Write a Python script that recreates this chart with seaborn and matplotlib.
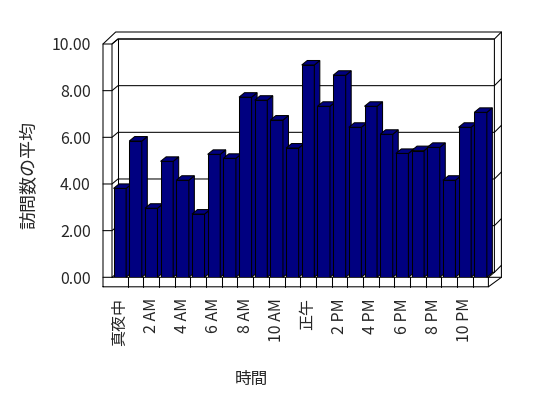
import matplotlib
matplotlib.use("Agg")
import matplotlib.pyplot as plt
from matplotlib.patches import Polygon
import seaborn as sns

# 時間帯ごとの平均訪問数
hours = ["真夜中", "1 AM", "2 AM", "3 AM", "4 AM", "5 AM", "6 AM", "7 AM",
         "8 AM", "9 AM", "10 AM", "11 AM", "正午", "1 PM", "2 PM", "3 PM",
         "4 PM", "5 PM", "6 PM", "7 PM", "8 PM", "9 PM", "10 PM", "11 PM"]
visits = [3.81, 5.84, 2.96, 4.97, 4.16, 2.71, 5.27, 5.10, 7.72, 7.59, 6.74, 5.54,
          9.10, 7.33, 8.66, 6.43, 7.33, 6.13, 5.31, 5.43, 5.57, 4.16, 6.43, 7.07]
tick_labels = hours[::2]
y_ticks = [0, 2, 4, 6, 8, 10]

sns.set_style("white")
plt.rcParams["font.family"] = ["Noto Sans CJK JP", "DejaVu Sans"]

W, H = 548, 398
fig = plt.figure(figsize=(W / 100, H / 100), dpi=100)
# 前面のプロット枠 (pixel, 下原点)
L, R, B, T = 112, 488.4, 120.7, 354
ax = fig.add_axes([L / W, B / H, (R - L) / W, (T - B) / H])
ax.patch.set_alpha(0)

sns.barplot(x=hours, y=visits, order=hours, color="#000080", saturation=1,
            width=0.8, edgecolor="black", linewidth=0.75, ax=ax)
ax.set_xlim(-0.5, len(hours) - 0.5)
ax.set_ylim(0, 10)
for s in ax.spines.values():
    s.set_visible(False)

# 3D風の奥行き (上面・側面)
ddx = 5.5 / ((R - L) / len(hours))
ddy = 4.5 / ((T - B) / 10)
for i, bar in enumerate(ax.patches):
    x0 = bar.get_x()
    x1 = x0 + bar.get_width()
    h = bar.get_height()
    z = 3 + i * 0.1
    bar.set_zorder(z)
    top = Polygon([(x0, h), (x1, h), (x1 + ddx, h + ddy), (x0 + ddx, h + ddy)],
                  closed=True, facecolor="#000080", edgecolor="black", lw=0.75,
                  zorder=z + 0.05, clip_on=False)
    side = Polygon([(x1, 0), (x1, h), (x1 + ddx, h + ddy), (x1 + ddx, ddy)],
                   closed=True, facecolor="#000080", edgecolor="black", lw=0.75,
                   zorder=z + 0.05, clip_on=False)
    ax.add_patch(side)
    ax.add_patch(top)


def frame(xs, ys, z=1):
    ax.plot([x / W for x in xs], [y / H for y in ys], color="black", lw=0.75,
            transform=fig.transFigure, clip_on=False, zorder=z)


# 壁と床
WALL, FLOOR = 9, 9.5
frame([L - WALL, R, R, R + 13, R + 13, L + 3.7, L - WALL, L - WALL],
      [B - FLOOR, B - FLOOR, B, B, T + 12, T + 12, T, B - FLOOR])
frame([R, R + 13], [B - FLOOR, B])
frame([L, L, L + 6, R + 6, R + 6], [B, T, T + 5, T + 5, B + 5])
frame([L + 6, L + 6], [T + 5, B + 5])
frame([L, R, R + 6], [B, B, B + 5])
for k in range(1, len(hours)):
    xk = L + k * (R - L) / len(hours)
    frame([xk, xk], [B - FLOOR, B])

# 目盛り線
for v in y_ticks:
    y = B + v * (T - B) / 10
    frame([L - WALL, L, L + 6, R + 6, R + 13], [y, y, y + 5, y + 5, y + 12])

ax.set_yticks(y_ticks)
ax.set_yticklabels([f"{v:.2f}" for v in y_ticks])
ax.set_xticks(range(0, len(hours), 2))
ax.set_xticklabels(tick_labels, rotation=90)
ax.tick_params(axis="y", length=0, pad=15.3, labelsize=11.5)
ax.tick_params(axis="x", length=0, pad=14.9, labelsize=11.5)
ax.set_xlabel("")
ax.set_ylabel("")

fig.text(251.7 / W, 19 / H, "時間", ha="center", va="center", fontsize=12)
fig.text(29 / W, 223 / H, "訪問数の平均", ha="center", va="center",
         rotation=90, fontsize=13)

fig.savefig("out.png", dpi=100, facecolor="white")
